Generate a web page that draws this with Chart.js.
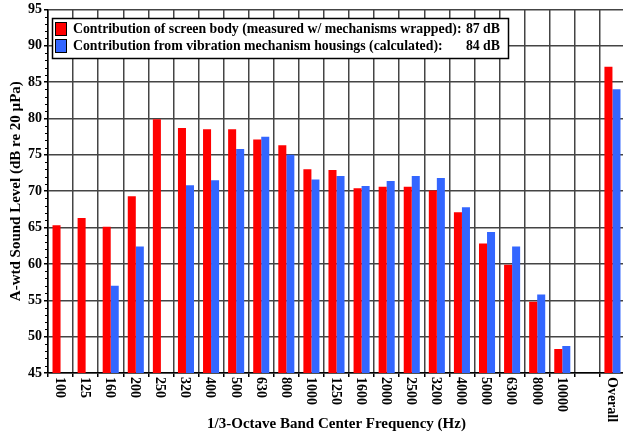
<!DOCTYPE html>
<html>
<head>
<meta charset="utf-8">
<script src="https://cdn.jsdelivr.net/npm/chart.js@4.4.0/dist/chart.umd.min.js"></script>
<style>
html, body { margin: 0; padding: 0; overflow: hidden; background: #fff; }
.wrap { position: relative; width: 625px; height: 436px; }
</style>
</head>
<body>
<div class="wrap"><canvas id="barChart"></canvas></div>
<script>
const bands = ['100', '125', '160', '200', '250', '320', '400', '500', '630', '800', '1000', '1250', '1600', '2000', '2500', '3200', '4000', '5000', '6300', '8000', '10000', '', 'Overall'];
const screenBody = [65.3, 66.3, 65.1, 69.3, 79.9, 78.7, 78.5, 78.5, 77.1, 76.3, 73.0, 72.9, 70.4, 70.6, 70.6, 70.1, 67.1, 62.8, 59.9, 54.8, 48.3, null, 87.1];
const housings = [null, null, 57.0, 62.4, null, 70.8, 71.5, 75.8, 77.5, 75.0, 71.6, 72.1, 70.7, 71.4, 72.1, 71.8, 67.8, 64.4, 62.4, 55.8, 48.7, null, 84.0];
const legendLabels = ['Contribution of screen body (measured w/ mechanisms wrapped):', 'Contribution from vibration mechanism housings (calculated):'];
const legendTotals = ['87 dB', '84 dB'];

const RED = '#ff0000';
const BLUE = '#3366ff';
const FONT = 'Liberation Serif';

Chart.defaults.font.family = FONT;
Chart.defaults.color = '#000';

// bottom labels read top-to-bottom, plus minor ticks and the inset legend
const extras = {
    id: 'extras',
    afterDraw(chart) {
        const ctx = chart.ctx;
        const x = chart.scales.x;
        const y = chart.scales.y;
        const area = chart.chartArea;

        ctx.save();
        ctx.strokeStyle = '#000';
        ctx.lineWidth = 1;
        for (let v = 46; v < 95; v++) {
            if (v % 5 === 0) continue;
            const py = Math.round(y.getPixelForValue(v)) + 0.5;
            ctx.beginPath();
            ctx.moveTo(area.left - 3, py);
            ctx.lineTo(area.left, py);
            ctx.stroke();
        }

        ctx.fillStyle = '#000';
        ctx.font = 'bold 14px "' + FONT + '"';
        ctx.textAlign = 'left';
        ctx.textBaseline = 'middle';
        bands.forEach((b, i) => {
            if (!b) return;
            const px = x.getPixelForValue(i) - 1;
            ctx.save();
            ctx.translate(px, area.bottom + 4);
            ctx.rotate(Math.PI / 2);
            ctx.fillText(b, 0, 0);
            ctx.restore();
        });

        // legend box
        ctx.fillStyle = '#fff';
        ctx.fillRect(52.5, 18.5, 456, 40);
        ctx.lineWidth = 1.5;
        ctx.strokeStyle = '#000';
        ctx.strokeRect(52.5, 18.5, 456, 40);

        [RED, BLUE].forEach((c, i) => {
            const top = 22.5 + i * 17;
            ctx.fillStyle = c;
            ctx.fillRect(55.5, top, 11, 13);
            ctx.lineWidth = 1;
            ctx.strokeRect(55.5, top, 11, 13);
            ctx.fillStyle = '#000';
            ctx.font = 'bold 13.8px "' + FONT + '"';
            ctx.textAlign = 'left';
            ctx.fillText(legendLabels[i], 73, top + 7);
            ctx.textAlign = 'right';
            ctx.fillText(legendTotals[i], 500, top + 7);
        });
        ctx.restore();
    }
};

const barCtx = document.getElementById('barChart').getContext('2d');
const barChart = new Chart(barCtx, {
    type: 'bar',
    data: {
        labels: bands,
        datasets: [
            {
                label: 'Screen body',
                data: screenBody,
                backgroundColor: RED,
                borderWidth: 0,
            },
            {
                label: 'Mechanism housings',
                data: housings,
                backgroundColor: BLUE,
                borderWidth: 0,
            }
        ]
    },
    options: {
        responsive: true,
        maintainAspectRatio: false,
        animation: false,
        categoryPercentage: 0.64,
        barPercentage: 1.0,
        layout: {
            padding: { left: 0, right: 0, top: 0, bottom: 0 }
        },
        scales: {
            x: {
                grid: {
                    offset: true,
                    color: '#444',
                    lineWidth: 1.5,
                    tickLength: 4,
                    tickColor: '#000'
                },
                border: { color: '#000', width: 1.5 },
                ticks: { display: false },
                title: {
                    display: true,
                    text: '1/3-Octave Band Center Frequency (Hz)',
                    font: { size: 15, weight: 'bold' },
                    padding: { top: 0, bottom: 3 }
                },
                afterFit: scale => { scale.height = 63; }
            },
            y: {
                min: 45,
                max: 95,
                ticks: {
                    stepSize: 5,
                    padding: 2,
                    font: { size: 14, weight: 'bold', lineHeight: 1.05 }
                },
                grid: {
                    color: '#444',
                    lineWidth: 1.5,
                    tickLength: 4,
                    tickColor: '#000'
                },
                border: { color: '#000', width: 1.5 },
                title: {
                    display: true,
                    text: 'A-wtd Sound Level (dB re 20 \u00b5Pa)',
                    font: { size: 15, weight: 'bold' },
                    padding: { top: 7, bottom: 0 }
                },
                afterFit: scale => { scale.width = 48; }
            }
        },
        plugins: {
            legend: { display: false },
            tooltip: { enabled: false }
        }
    },
    plugins: [extras]
});
</script>
</body>
</html>
